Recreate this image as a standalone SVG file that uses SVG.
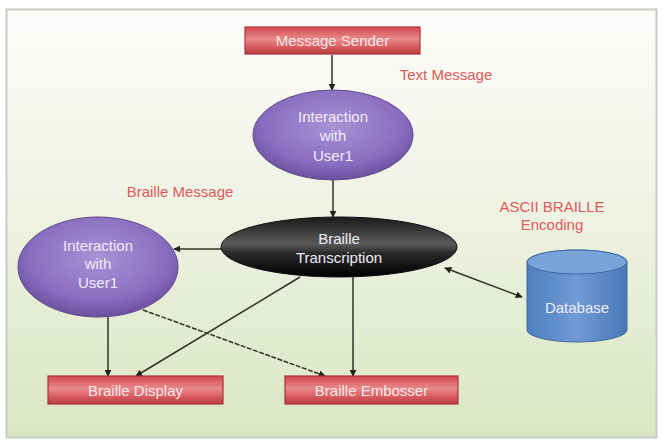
<svg xmlns="http://www.w3.org/2000/svg" width="662" height="442" viewBox="0 0 662 442">
<defs>
<linearGradient id="bg" x1="0" y1="0" x2="0" y2="1">
<stop offset="0" stop-color="#fdfdfc"/>
<stop offset="0.45" stop-color="#eff3e4"/>
<stop offset="1" stop-color="#dae6c3"/>
</linearGradient>
<linearGradient id="red" x1="0" y1="0" x2="0" y2="1">
<stop offset="0" stop-color="#d24a4d"/>
<stop offset="0.45" stop-color="#e88a8c"/>
<stop offset="0.75" stop-color="#d65a5d"/>
<stop offset="1" stop-color="#b83a3e"/>
</linearGradient>
<radialGradient id="purple" cx="0.5" cy="0.4" r="0.6">
<stop offset="0" stop-color="#a893d6"/>
<stop offset="0.7" stop-color="#8a6fc0"/>
<stop offset="1" stop-color="#6c4f9f"/>
</radialGradient>
<linearGradient id="black" x1="0" y1="0" x2="0" y2="1">
<stop offset="0" stop-color="#1a1a1a"/>
<stop offset="0.45" stop-color="#5a5a5a"/>
<stop offset="0.6" stop-color="#2a2a2a"/>
<stop offset="1" stop-color="#000"/>
</linearGradient>
<linearGradient id="blue" x1="0" y1="0" x2="1" y2="0">
<stop offset="0" stop-color="#4f7fbf"/>
<stop offset="0.5" stop-color="#6f9bd6"/>
<stop offset="1" stop-color="#4a78b6"/>
</linearGradient>
<marker id="ah" viewBox="0 0 10 10" refX="9" refY="5" markerWidth="7" markerHeight="7" markerUnits="userSpaceOnUse" orient="auto-start-reverse">
<path d="M0,0 L10,5 L0,10 z" fill="#1e2218"/>
</marker>
<style>
.box{fill:url(#red);stroke:#a8353a;stroke-width:1.2}
.bt{font-family:"Liberation Sans",Arial,sans-serif;font-size:15px;fill:#fbe6e6;text-anchor:middle}
.et{font-family:"Liberation Sans",Arial,sans-serif;font-size:15px;fill:#f1ecfa;text-anchor:middle}
.lbl{font-family:"Liberation Sans",Arial,sans-serif;font-size:15px;fill:#e0595b;text-anchor:middle}
.c{stroke:#2f3326;stroke-width:1.5;fill:none;marker-end:url(#ah)}
</style>
</defs>
<rect x="0" y="0" width="662" height="442" fill="#ffffff"/>
<rect x="6.5" y="9.5" width="650" height="428" fill="url(#bg)" stroke="#c8ccc4" stroke-width="2"/>

<g id="labels">
<text class="lbl" x="446" y="80">Text Message</text>
<text class="lbl" x="180" y="197">Braille Message</text>
<text class="lbl" x="552" y="212">ASCII BRAILLE</text>
<text class="lbl" x="552" y="230">Encoding</text>
</g>

<g id="connectors">
<line class="c" x1="332" y1="55" x2="332" y2="90"/>
<line class="c" x1="333" y1="180" x2="333" y2="217"/>
<line class="c" x1="221" y1="249" x2="174" y2="249"/>
<line class="c" x1="108" y1="317" x2="108" y2="376"/>
<line class="c" x1="300" y1="277" x2="136" y2="376"/>
<line class="c" x1="143" y1="310" x2="325" y2="376" stroke-dasharray="5 1.5"/>
<line class="c" x1="353" y1="277" x2="353" y2="376"/>
<line class="c" x1="445" y1="268" x2="522" y2="297" style="marker-start:url(#ah)"/>
</g>

<g id="message-sender">
<rect class="box" x="245" y="27" width="175" height="27"/>
<text class="bt" x="332.5" y="46">Message Sender</text>
</g>

<g id="interaction-user1-top">
<ellipse cx="333" cy="135" rx="80" ry="45" fill="url(#purple)" stroke="#5f4a8c" stroke-width="1"/>
<text class="et" x="333" y="122">Interaction</text>
<text class="et" x="333" y="141">with</text>
<text class="et" x="333" y="161">User1</text>
</g>

<g id="braille-transcription">
<ellipse cx="339" cy="247" rx="118" ry="30" fill="url(#black)" stroke="#111" stroke-width="1"/>
<text class="et" x="339" y="244" fill="#f4f4f4">Braille</text>
<text class="et" x="339" y="263" fill="#f4f4f4">Transcription</text>
</g>

<g id="interaction-user1-left">
<ellipse cx="98" cy="267" rx="80" ry="50" fill="url(#purple)" stroke="#5f4a8c" stroke-width="1"/>
<text class="et" x="98" y="251">Interaction</text>
<text class="et" x="98" y="269">with</text>
<text class="et" x="98" y="288">User1</text>
</g>

<g id="database">
<path d="M527,262 L527,330 A50,12 0 0 0 627,330 L627,262 A50,12 0 0 0 527,262 Z" fill="url(#blue)" stroke="#3f6aa3" stroke-width="1"/>
<ellipse cx="577" cy="262" rx="50" ry="12" fill="#7aa3da" stroke="#3f6aa3" stroke-width="1"/>
<text class="et" x="577" y="313" fill="#f0f5fc">Database</text>
</g>

<g id="braille-display">
<rect class="box" x="48" y="376" width="175" height="28"/>
<text class="bt" x="135.5" y="395.5">Braille Display</text>
</g>

<g id="braille-embosser">
<rect class="box" x="285" y="376" width="173" height="28"/>
<text class="bt" x="371.5" y="395.5">Braille Embosser</text>
</g>
</svg>
